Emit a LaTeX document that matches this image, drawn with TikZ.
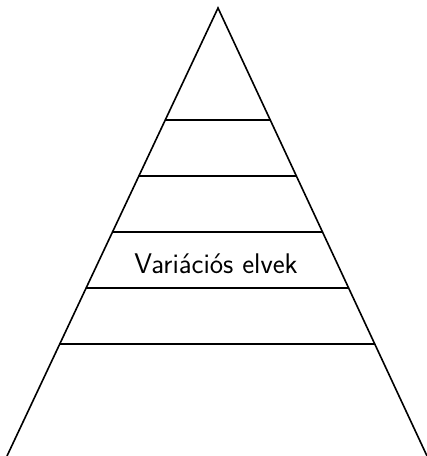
\documentclass[tikz,border=0pt]{standalone}
\usetikzlibrary{calc}
\tikzset{leg/.style={line width=1.2pt,line join=miter},
  band/.style={line width=1.2pt},
  lbl/.style={font=\sffamily\fontsize{21.3}{25}\selectfont,inner sep=0pt,anchor=base}}
\begin{document}
\begin{tikzpicture}[x=0.75pt,y=-0.75pt]
\useasboundingbox (0,0) rectangle (427,456);
\coordinate (apex) at (218,8);
\coordinate (bl) at (7,456);
\coordinate (br) at (427,456);
\draw[leg] (bl) -- (apex) -- (br);
\foreach \t [count=\i] in {0.25,0.375,0.5,0.625,0.75}{
  \coordinate (l\i) at ($(apex)!\t!(bl)$);
  \coordinate (r\i) at ($(apex)!\t!(br)$);
  \draw[band] (l\i) -- (r\i);
}
\node[lbl] (txt) at (216,273) {Variációs elvek};
\end{tikzpicture}
\end{document}
